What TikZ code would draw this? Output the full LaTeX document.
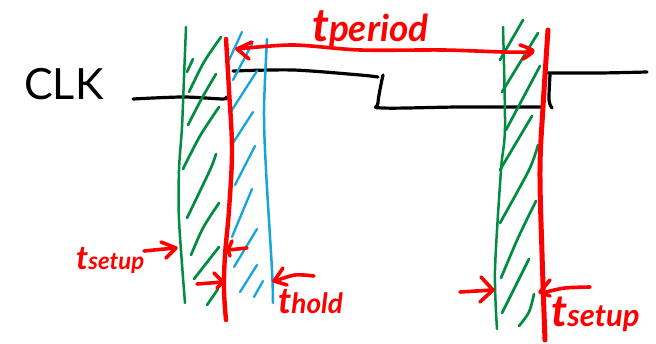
\documentclass[tikz,border=0pt]{standalone}
\usepackage{fontspec}
\setmainfont{Lato}
\definecolor{penred}{RGB}{255,0,0}
\definecolor{pengreen}{RGB}{0,140,65}
\definecolor{penblue}{RGB}{20,165,220}
\tikzset{
  ink/.style={line cap=round,line join=round},
  clkline/.style={ink,draw=black,line width=3.2pt},
  greenline/.style={ink,draw=pengreen,line width=2.5pt},
  hatchgreen/.style={ink,draw=pengreen,line width=2.7pt},
  blueline/.style={ink,draw=penblue,line width=2.5pt},
  hatchblue/.style={ink,draw=penblue,line width=2.3pt},
  redbar/.style={ink,draw=penred,line width=4.4pt},
  redarrow/.style={ink,draw=penred,line width=3.6pt},
  handtext/.style={inner sep=0pt,anchor=base west,text=penred},
}
\begin{document}
\begin{tikzpicture}[x=1pt,y=-1pt]
\useasboundingbox (0,0) rectangle (656,344);
% clock
\draw[clkline] plot[smooth,tension=.5] coordinates {(133,99) (183,97) (223,99) (226,97)};
\draw[clkline] plot[smooth,tension=.5] coordinates {(233,71) (293,70) (360,75) (378,77)};
\draw[clkline] plot[smooth,tension=.6] coordinates {(383,75) (378,103) (383,108) (460,107) (542,107)};
\draw[clkline] plot[smooth,tension=.5] coordinates {(550,75) (549,100) (552,108)};
\draw[clkline] plot[smooth,tension=.5] coordinates {(548,73) (600,73) (647,72)};
% green, left band
\draw[greenline] plot[smooth] coordinates {(186,27) (184,77) (182,127) (179,170) (179,220) (185,303)};
\draw[hatchgreen] (187,72) -- (193,59);
\draw[hatchgreen] plot[smooth] coordinates {(189,92) (204,62) (221,37)};
\draw[hatchgreen] plot[smooth] coordinates {(188,125) (202,98) (216,74)};
\draw[hatchgreen] plot[smooth] coordinates {(183,169) (200,136) (219,107)};
\draw[hatchgreen] plot[smooth] coordinates {(187,218) (210,170) (216,154)};
\draw[hatchgreen] plot[smooth] coordinates {(191,255) (203,228) (219,203)};
\draw[hatchgreen] (194,279) -- (219,247);
\draw[hatchgreen] (207,305) -- (218,289);
% blue band
\draw[blueline] plot[smooth] coordinates {(267,39) (264,110) (266,170) (272,270) (273,303)};
\draw[hatchblue] (229,60) -- (242,32);
\draw[hatchblue] (233,80) -- (252,44);
\draw[hatchblue] (230,113) -- (257,71);
\draw[hatchblue] (233,143) -- (253,112);
\draw[hatchblue] (235,185) -- (255,146);
\draw[hatchblue] (232,237) -- (252,189);
\draw[hatchblue] (234,267) -- (257,229);
\draw[hatchblue] (240,292) -- (257,265);
\draw[hatchblue] (254,297) -- (263,281);
% green, right band
\draw[greenline] plot[smooth] coordinates {(503,27) (505,127) (501,170) (495,270) (497,329)};
\draw[hatchgreen] (500,60) -- (523,20);
\draw[hatchgreen] (502,92) -- (538,33);
\draw[hatchgreen] (506,130) -- (540,66);
\draw[hatchgreen] (500,170) -- (532,116);
\draw[hatchgreen] plot[smooth] coordinates {(500,223) (529,170) (538,145)};
\draw[hatchgreen] plot[smooth] coordinates {(501,278) (518,238) (536,201)};
\draw[hatchgreen] (502,313) -- (529,259);
\draw[hatchgreen] plot[smooth] coordinates {(519,326) (529,312) (534,294)};
% red clock edges
\draw[redbar] plot[smooth,tension=.6] coordinates {(226,39) (229,90) (232,150) (229,210) (225,255) (224,290) (226,320)};
\draw[redbar,line width=5pt] plot[smooth,tension=.6] coordinates {(548,30) (543,107) (540,170) (542,253) (545,340)};
% period arrow
\draw[redarrow] plot[smooth] coordinates {(237,49) (293,45) (360,50) (443,50) (503,52) (532,52)};
\draw[redarrow] (252,42) -- (237,49) -- (249,59);
\draw[redarrow] plot[smooth] coordinates {(520,45) (533,51) (523,59)};
% small arrows
\draw[redarrow] (144,251) -- (175,248);
\draw[redarrow] (161,242) -- (176,248) -- (166,258);
\draw[redarrow] (197,284) -- (223,282);
\draw[redarrow] (214,273) -- (223,282) -- (217,288);
\draw[redarrow] (247,248) -- (228,250);
\draw[redarrow] (232,241) -- (228,250) -- (230,256);
\draw[redarrow] plot[smooth] coordinates {(314,276) (295,275) (275,281)};
\draw[redarrow] (283,268) -- (274,281) -- (287,285);
\draw[redarrow] (460,292) -- (493,290);
\draw[redarrow] (481,277) -- (493,290) -- (480,302);
\draw[redarrow] plot[smooth] coordinates {(590,287) (565,288) (546,292)};
\draw[redarrow] (550,280) -- (540,292) -- (550,296);
% labels
\node[inner sep=0pt,anchor=base west,font=\fontsize{43}{43}\selectfont] (clk) at (24,100) {CLK};
\node[handtext,font=\fontsize{46}{46}\selectfont\bfseries\itshape] (tperiod) at (312,42) {t\fontsize{37}{37}\selectfont period};
\node[handtext,font=\fontsize{33}{33}\selectfont\bfseries\itshape] (tsetupa) at (76,270) {t\fontsize{24}{24}\selectfont setup};
\node[handtext,font=\fontsize{36}{36}\selectfont\bfseries\itshape] (thold) at (278,314) {t\fontsize{28}{28}\selectfont hold};
\node[handtext,font=\fontsize{44}{44}\selectfont\bfseries\itshape] (tsetupb) at (551,327) {t\fontsize{31}{31}\selectfont setup};
\end{tikzpicture}
\end{document}
